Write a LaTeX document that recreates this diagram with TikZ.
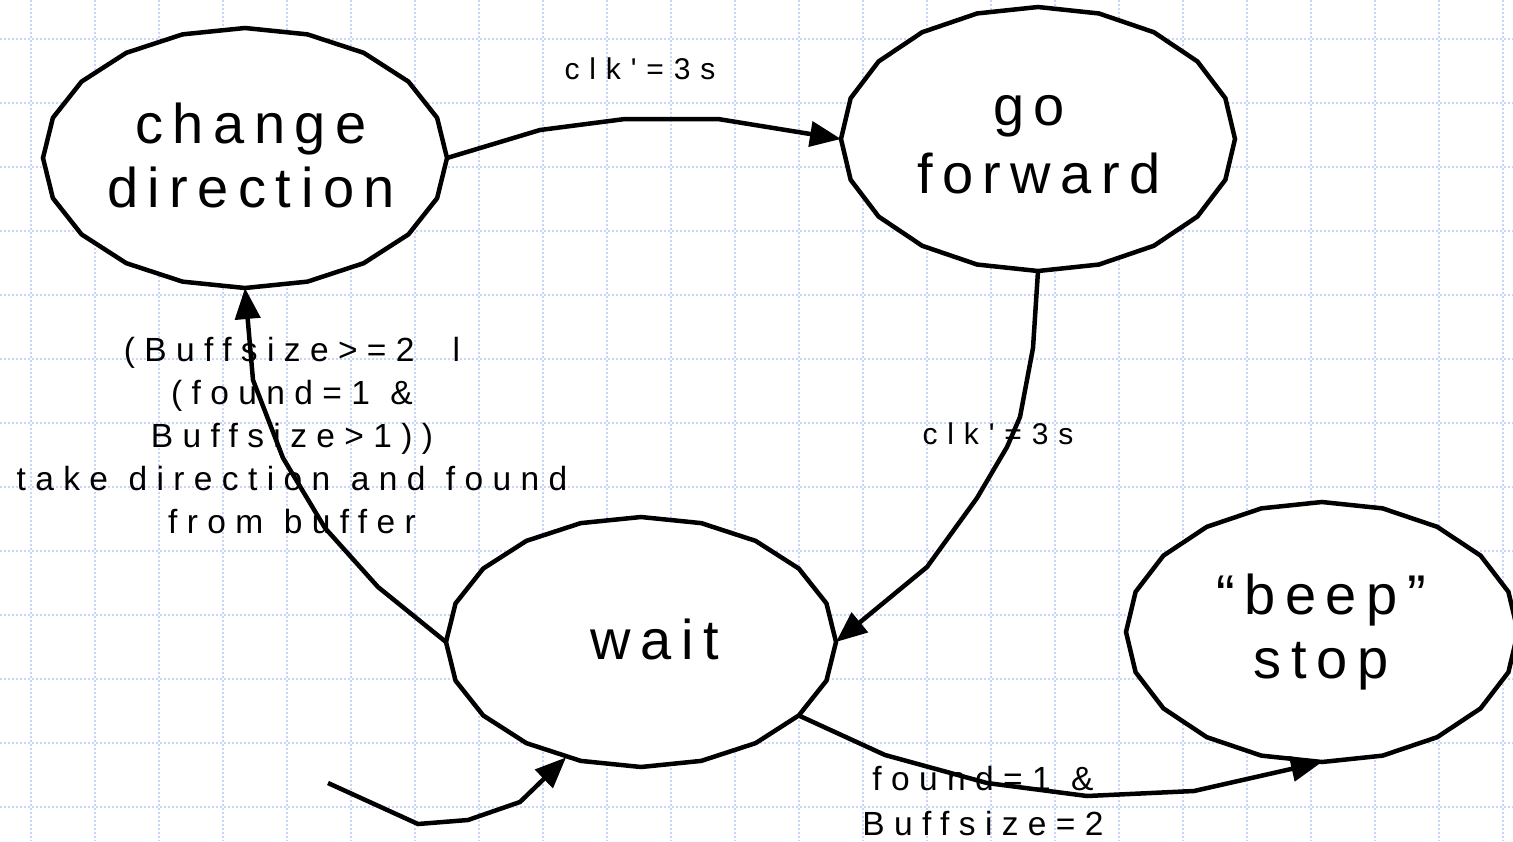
\documentclass[tikz,border=0pt]{standalone}
\usepackage{fontspec}
\setmainfont{Liberation Sans}
\newfontfamily\statefont[LetterSpace=17,Ligatures=TeXOff]{Liberation Sans}
\newfontfamily\labelfont[LetterSpace=28,WordSpace=1.1,Ligatures=TeXOff]{Liberation Sans}
\newfontfamily\clkfont[LetterSpace=33,Ligatures=TeXOff]{Liberation Sans}
\usetikzlibrary{shapes.geometric,arrows.meta}

\definecolor{gridblue}{RGB}{200,212,250}

\tikzset{
  gridline/.style={draw=gridblue, line width=1.2pt, dash pattern=on 2pt off 2pt},
  state/.style={ellipse, draw=none, inner sep=0pt, outer sep=0pt},
  ring/.style={draw=black, fill=white, line width=4.5pt},
  statetext/.style={font={\statefont\fontsize{56}{64}\selectfont}, align=center, inner sep=0pt},
  lab/.style={font={\labelfont\fontsize{33.5}{43}\selectfont}, align=center, inner sep=0pt},
  clklab/.style={font={\clkfont\fontsize{30}{36}\selectfont}, inner sep=0pt},
  conn/.style={draw=black, line width=4.5pt, -{Triangle[length=31pt,width=25pt]}},
}

% 20-sided outline of a state, drawn round the centre of its node
\newcommand\statering[3]{%
  \draw[ring] ([shift={(0:#2 and #3)}]#1.center)
    \foreach \a in {18,36,...,342}{ -- ([shift={(\a:#2 and #3)}]#1.center)} -- cycle;}

\begin{document}
\begin{tikzpicture}[x=1pt,y=-1pt]
  \useasboundingbox (0,0) rectangle (1513,841);
  \fill[white] (0,0) rectangle (1513,841);

  % background grid
  \foreach \gx in {31,95,...,1503} \draw[gridline] (\gx,0) -- (\gx,841);
  \foreach \gy in {39,103,...,807} \draw[gridline] (0,\gy) -- (1513,\gy);

  % states
  \node[state, minimum width=404pt, minimum height=260pt] (cd) at (245,158) {};
  \node[state, minimum width=394pt, minimum height=264pt] (gf) at (1038,139) {};
  \node[state, minimum width=390pt, minimum height=250pt] (wait) at (641,642) {};
  \node[state, minimum width=392pt, minimum height=260pt] (beep) at (1322,632) {};

  \statering{cd}{202}{130}
  \statering{gf}{197}{132}
  \statering{wait}{195}{125}
  \statering{beep}{196}{130}

  \node[statetext] (cd-t) at (251,155) {change\\direction};
  \node[statetext] (gf-t) at (1039,145) {go\hspace*{20pt}\\[4pt]forward};
  \node[statetext] (wait-t) at (655,639) {wait};
  \node[statetext] (beep-t) at (1321,632) {“beep”\\stop};

  % transitions
  \coordinate (init) at (328,783);
  \draw[conn] (init) -- (418,824) -- (468,820) -- (520,802) -- (wait.237);

  \draw[conn] (cd.east) -- (540,130) -- (625,119) -- (718,119) -- (gf.west);
  \draw[conn] (gf.south) -- (1033,348) -- (1020,417) -- (1007,447) -- (977,498)
              -- (927,567) -- (wait.east);
  \draw[conn] (wait.west) -- (378,587) -- (325,528) -- (283,458) -- (253,380)
              -- (cd.south);
  \draw[conn] ([shift={(36:195 and 125)}]wait.center) -- (885,755) -- (987,783)
              -- (1087,796) -- (1194,791) -- (beep.south);

  % transition labels
  \node[clklab, anchor=base] (t1) at (640,79) {clk'=3s};
  \node[clklab, anchor=base] (t2) at (998,444) {clk'=3s};
  \node[lab] (t3) at (292,436) {(Buffsize>=2\hspace{38pt}l\\(found=1 \&\\Buffsize>1))\\take direction and found\\from buffer};
  \node[lab] (t4) at (983,801) {found=1 \&\\[2pt]Buffsize=2};
\end{tikzpicture}
\end{document}
